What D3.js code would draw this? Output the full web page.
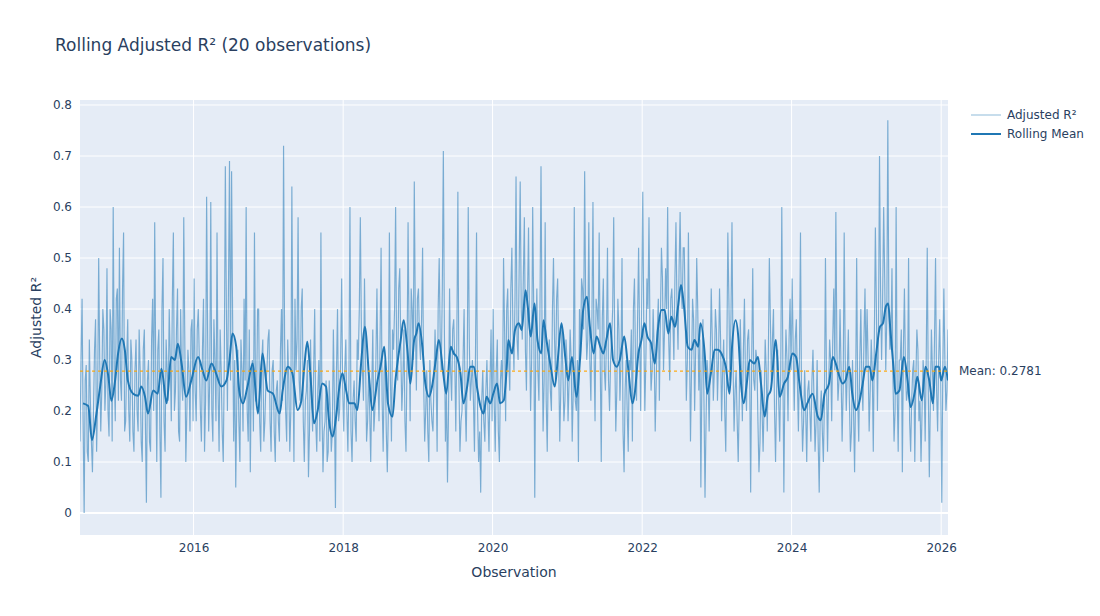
<!DOCTYPE html>
<html>
<head>
<meta charset="utf-8">
<script src="https://cdn.jsdelivr.net/npm/d3@7"></script>
<style>
  body { margin: 0; background: #fff; }
  text { font-family: "DejaVu Sans", Verdana, sans-serif; fill: #2a3f5f; }
</style>
</head>
<body>
<div id="chart"></div>
<script>
// raw adjusted R² values: rawXXXX one every 365.25/36 days from the first observation,
// midXXXX the observations half a step later
var rawStart = 2014.48;
var rawPerYear = 36;
var raw2014 = [0.14, 0.42, 0.00, 0.29, 0.10, 0.22, 0.08, 0.32, 0.12, 0.50, 0.16, 0.40, 0.20, 0.48, 0.15, 0.36, 0.60, 0.18, 0.44];
var raw2015 = [0.52, 0.22, 0.55, 0.18, 0.38, 0.14, 0.30, 0.12, 0.34, 0.16, 0.28, 0.10,
               0.36, 0.02, 0.30, 0.12, 0.42, 0.57, 0.10, 0.36, 0.03, 0.50, 0.12, 0.28,
               0.40, 0.18, 0.55, 0.24, 0.44, 0.14, 0.26, 0.58, 0.10, 0.32, 0.16, 0.38];
var raw2016 = [0.46, 0.18, 0.40, 0.20, 0.32, 0.12, 0.62, 0.16, 0.61, 0.14, 0.30, 0.55,
               0.12, 0.28, 0.10, 0.68, 0.20, 0.69, 0.67, 0.14, 0.05, 0.32, 0.10, 0.28,
               0.42, 0.60, 0.14, 0.08, 0.30, 0.55, 0.22, 0.40, 0.12, 0.34, 0.18, 0.28];
var raw2017 = [0.36, 0.12, 0.30, 0.10, 0.26, 0.14, 0.40, 0.72, 0.20, 0.34, 0.12, 0.64,
               0.10, 0.28, 0.58, 0.22, 0.44, 0.10, 0.24, 0.07, 0.34, 0.16, 0.40, 0.12,
               0.30, 0.55, 0.08, 0.18, 0.10, 0.26, 0.12, 0.36, 0.01, 0.40, 0.20, 0.46];
var raw2018 = [0.16, 0.34, 0.12, 0.60, 0.10, 0.26, 0.14, 0.30, 0.58, 0.28, 0.46, 0.14,
               0.28, 0.10, 0.36, 0.20, 0.44, 0.18, 0.52, 0.12, 0.30, 0.08, 0.55, 0.14,
               0.32, 0.60, 0.26, 0.48, 0.20, 0.36, 0.12, 0.57, 0.18, 0.40, 0.65, 0.24];
var raw2019 = [0.44, 0.30, 0.52, 0.14, 0.28, 0.10, 0.22, 0.16, 0.36, 0.12, 0.50, 0.28,
               0.71, 0.14, 0.06, 0.44, 0.22, 0.38, 0.16, 0.63, 0.12, 0.20, 0.40, 0.14,
               0.60, 0.22, 0.30, 0.12, 0.55, 0.10, 0.04, 0.28, 0.14, 0.30, 0.12, 0.36];
var raw2020 = [0.40, 0.12, 0.34, 0.10, 0.30, 0.50, 0.18, 0.44, 0.24, 0.52, 0.28, 0.66,
               0.30, 0.65, 0.34, 0.58, 0.24, 0.56, 0.20, 0.60, 0.03, 0.44, 0.22, 0.68,
               0.16, 0.57, 0.12, 0.34, 0.20, 0.50, 0.26, 0.46, 0.14, 0.36, 0.18, 0.34];
var raw2021 = [0.18, 0.36, 0.14, 0.60, 0.20, 0.10, 0.30, 0.44, 0.67, 0.30, 0.57, 0.22,
               0.61, 0.18, 0.40, 0.55, 0.10, 0.46, 0.24, 0.52, 0.20, 0.34, 0.58, 0.16,
               0.42, 0.22, 0.50, 0.08, 0.30, 0.12, 0.28, 0.14, 0.46, 0.22, 0.52, 0.20];
var raw2022 = [0.63, 0.20, 0.46, 0.58, 0.24, 0.40, 0.16, 0.36, 0.22, 0.52, 0.28, 0.48,
               0.60, 0.26, 0.44, 0.30, 0.57, 0.32, 0.59, 0.40, 0.52, 0.22, 0.55, 0.14,
               0.42, 0.20, 0.50, 0.24, 0.05, 0.38, 0.03, 0.30, 0.16, 0.44, 0.22, 0.40];
var raw2023 = [0.22, 0.44, 0.18, 0.34, 0.12, 0.55, 0.26, 0.57, 0.16, 0.28, 0.10, 0.38,
               0.18, 0.42, 0.20, 0.36, 0.04, 0.48, 0.24, 0.30, 0.08, 0.28, 0.12, 0.34,
               0.16, 0.50, 0.26, 0.40, 0.10, 0.32, 0.14, 0.60, 0.04, 0.36, 0.18, 0.42];
var raw2024 = [0.46, 0.20, 0.38, 0.16, 0.55, 0.12, 0.28, 0.10, 0.26, 0.14, 0.32, 0.12,
               0.30, 0.04, 0.24, 0.10, 0.50, 0.12, 0.34, 0.18, 0.44, 0.59, 0.22, 0.40,
               0.14, 0.55, 0.20, 0.36, 0.12, 0.30, 0.08, 0.50, 0.14, 0.40, 0.20, 0.44];
var raw2025 = [0.40, 0.16, 0.34, 0.12, 0.56, 0.20, 0.70, 0.30, 0.60, 0.28, 0.77, 0.32,
               0.48, 0.14, 0.60, 0.12, 0.30, 0.08, 0.44, 0.22, 0.50, 0.12, 0.28, 0.10,
               0.36, 0.18, 0.10, 0.30, 0.14, 0.52, 0.07, 0.36, 0.20, 0.50, 0.16, 0.38];
var raw2026 = [0.02, 0.44, 0.20, 0.36];

var mid2014 = [0.30, 0.18, 0.26, 0.12, 0.34, 0.14, 0.20, 0.38, 0.22, 0.30, 0.24, 0.36, 0.26, 0.20, 0.40, 0.14, 0.28, 0.42, 0.22];
var mid2015 = [0.26, 0.44, 0.16, 0.30, 0.20, 0.34, 0.16, 0.28, 0.20, 0.36, 0.14, 0.32,
               0.18, 0.26, 0.14, 0.34, 0.20, 0.28, 0.32, 0.16, 0.40, 0.18, 0.34, 0.22,
               0.30, 0.42, 0.20, 0.36, 0.16, 0.40, 0.22, 0.34, 0.20, 0.28, 0.36, 0.18];
var mid2016 = [0.24, 0.36, 0.30, 0.14, 0.42, 0.22, 0.34, 0.26, 0.20, 0.38, 0.18, 0.24,
               0.36, 0.16, 0.30, 0.40, 0.44, 0.26, 0.38, 0.30, 0.22, 0.18, 0.34, 0.16,
               0.26, 0.20, 0.36, 0.28, 0.16, 0.22, 0.40, 0.18, 0.30, 0.14, 0.26, 0.34];
var mid2017 = [0.18, 0.28, 0.16, 0.24, 0.18, 0.32, 0.22, 0.34, 0.14, 0.26, 0.20, 0.30,
               0.42, 0.34, 0.26, 0.40, 0.18, 0.22, 0.30, 0.16, 0.22, 0.28, 0.18, 0.24,
               0.14, 0.20, 0.16, 0.26, 0.12, 0.20, 0.16, 0.22, 0.28, 0.18, 0.30, 0.24];
var mid2018 = [0.28, 0.20, 0.26, 0.16, 0.22, 0.18, 0.34, 0.40, 0.36, 0.22, 0.30, 0.18,
               0.20, 0.24, 0.16, 0.30, 0.26, 0.34, 0.22, 0.28, 0.16, 0.20, 0.26, 0.36,
               0.40, 0.30, 0.44, 0.32, 0.26, 0.18, 0.30, 0.34, 0.44, 0.30, 0.38, 0.42];
var mid2019 = [0.34, 0.38, 0.26, 0.20, 0.16, 0.30, 0.18, 0.26, 0.28, 0.40, 0.34, 0.44,
               0.36, 0.24, 0.20, 0.28, 0.36, 0.30, 0.34, 0.26, 0.18, 0.30, 0.22, 0.28,
               0.34, 0.26, 0.22, 0.32, 0.20, 0.16, 0.22, 0.18, 0.24, 0.20, 0.26, 0.18];
var mid2020 = [0.22, 0.28, 0.16, 0.26, 0.22, 0.36, 0.40, 0.30, 0.44, 0.36, 0.42, 0.34,
               0.48, 0.40, 0.46, 0.32, 0.42, 0.36, 0.30, 0.40, 0.34, 0.28, 0.40, 0.36,
               0.26, 0.22, 0.30, 0.24, 0.40, 0.34, 0.42, 0.30, 0.24, 0.28, 0.22, 0.30];
var mid2021 = [0.26, 0.30, 0.24, 0.22, 0.30, 0.40, 0.46, 0.36, 0.40, 0.34, 0.30, 0.38,
               0.32, 0.42, 0.36, 0.30, 0.38, 0.28, 0.34, 0.26, 0.30, 0.40, 0.32, 0.24,
               0.36, 0.30, 0.16, 0.24, 0.20, 0.30, 0.36, 0.40, 0.30, 0.38, 0.34, 0.42];
var mid2022 = [0.36, 0.30, 0.40, 0.34, 0.28, 0.32, 0.26, 0.42, 0.38, 0.46, 0.36, 0.40,
               0.34, 0.42, 0.38, 0.46, 0.40, 0.48, 0.44, 0.52, 0.38, 0.30, 0.34, 0.28,
               0.38, 0.32, 0.40, 0.34, 0.26, 0.22, 0.18, 0.26, 0.30, 0.34, 0.28, 0.36];
var mid2023 = [0.30, 0.34, 0.28, 0.20, 0.30, 0.42, 0.38, 0.30, 0.24, 0.18, 0.22, 0.28,
               0.32, 0.26, 0.34, 0.28, 0.30, 0.26, 0.32, 0.18, 0.14, 0.20, 0.22, 0.28,
               0.30, 0.38, 0.34, 0.20, 0.24, 0.22, 0.28, 0.30, 0.26, 0.30, 0.34, 0.28];
var mid2024 = [0.32, 0.34, 0.26, 0.30, 0.22, 0.18, 0.20, 0.24, 0.20, 0.26, 0.22, 0.18,
               0.14, 0.20, 0.16, 0.22, 0.26, 0.24, 0.30, 0.34, 0.28, 0.32, 0.26, 0.28,
               0.24, 0.30, 0.28, 0.22, 0.16, 0.20, 0.24, 0.22, 0.30, 0.26, 0.34, 0.28];
var mid2025 = [0.30, 0.24, 0.28, 0.34, 0.40, 0.36, 0.44, 0.42, 0.46, 0.38, 0.40, 0.34,
               0.26, 0.20, 0.24, 0.30, 0.36, 0.32, 0.28, 0.24, 0.18, 0.22, 0.30, 0.26,
               0.32, 0.22, 0.20, 0.26, 0.30, 0.24, 0.22, 0.28, 0.34, 0.24, 0.30, 0.26];
var mid2026 = [0.28, 0.30, 0.24];

// rolling mean (20 obs), read at these decimal-year positions
var rollT = [2014.52, 2014.59, 2014.64, 2014.70, 2014.75, 2014.81, 2014.86, 2014.90, 2014.95, 2014.99,
             2015.04, 2015.08, 2015.12, 2015.19, 2015.26, 2015.30, 2015.35, 2015.39, 2015.46, 2015.52,
             2015.57, 2015.64, 2015.70, 2015.75, 2015.79, 2015.84, 2015.90, 2015.97, 2016.06, 2016.12,
             2016.17, 2016.24, 2016.30, 2016.37, 2016.44, 2016.48, 2016.52, 2016.57, 2016.61, 2016.66,
             2016.72, 2016.79, 2016.86, 2016.92, 2016.99, 2017.06, 2017.15, 2017.19, 2017.26, 2017.32,
             2017.39, 2017.44, 2017.48, 2017.52, 2017.56, 2017.61, 2017.66, 2017.72, 2017.77, 2017.81,
             2017.86, 2017.90, 2017.95, 2017.99, 2018.04, 2018.08, 2018.15, 2018.19, 2018.24, 2018.29,
             2018.35, 2018.39, 2018.46, 2018.50, 2018.55, 2018.60, 2018.66, 2018.70, 2018.77, 2018.81,
             2018.86, 2018.90, 2018.95, 2018.98, 2019.01, 2019.06, 2019.10, 2019.15, 2019.19, 2019.24,
             2019.28, 2019.34, 2019.38, 2019.44, 2019.48, 2019.52, 2019.57, 2019.61, 2019.66, 2019.70,
             2019.75, 2019.79, 2019.84, 2019.88, 2019.92, 2019.97, 2020.01, 2020.06, 2020.10, 2020.15,
             2020.19, 2020.21, 2020.26, 2020.30, 2020.35, 2020.39, 2020.44, 2020.47, 2020.51, 2020.56,
             2020.60, 2020.65, 2020.68, 2020.72, 2020.77, 2020.83, 2020.87, 2020.92, 2020.97, 2021.01,
             2021.06, 2021.12, 2021.17, 2021.21, 2021.26, 2021.30, 2021.35, 2021.39, 2021.44, 2021.48,
             2021.52, 2021.57, 2021.61, 2021.66, 2021.70, 2021.76, 2021.81, 2021.87, 2021.90, 2021.95,
             2021.99, 2022.03, 2022.07, 2022.12, 2022.17, 2022.21, 2022.26, 2022.30, 2022.35, 2022.39,
             2022.44, 2022.48, 2022.52, 2022.56, 2022.61, 2022.66, 2022.70, 2022.75, 2022.78, 2022.84,
             2022.87, 2022.92, 2022.97, 2023.01, 2023.06, 2023.12, 2023.17, 2023.20, 2023.25, 2023.29,
             2023.32, 2023.36, 2023.40, 2023.44, 2023.50, 2023.55, 2023.59, 2023.64, 2023.68, 2023.72,
             2023.79, 2023.84, 2023.90, 2023.95, 2024.01, 2024.06, 2024.10, 2024.17, 2024.21, 2024.28,
             2024.35, 2024.39, 2024.44, 2024.50, 2024.55, 2024.59, 2024.64, 2024.68, 2024.72, 2024.77,
             2024.81, 2024.86, 2024.90, 2024.95, 2024.99, 2025.04, 2025.08, 2025.13, 2025.18, 2025.22,
             2025.26, 2025.29, 2025.32, 2025.36, 2025.39, 2025.44, 2025.50, 2025.55, 2025.59, 2025.65,
             2025.68, 2025.74, 2025.79, 2025.84, 2025.89, 2025.92, 2025.97, 2026.00, 2026.05, 2026.09];
var rollV = [0.215, 0.210, 0.143, 0.195, 0.248, 0.300, 0.267, 0.220, 0.260, 0.313,
             0.342, 0.320, 0.260, 0.234, 0.230, 0.248, 0.228, 0.195, 0.240, 0.234,
             0.283, 0.215, 0.306, 0.300, 0.332, 0.293, 0.228, 0.260, 0.306, 0.280,
             0.260, 0.293, 0.274, 0.248, 0.260, 0.300, 0.352, 0.326, 0.240, 0.215,
             0.248, 0.293, 0.195, 0.313, 0.240, 0.234, 0.195, 0.240, 0.287, 0.274,
             0.202, 0.220, 0.287, 0.336, 0.274, 0.176, 0.202, 0.254, 0.248, 0.182,
             0.150, 0.182, 0.248, 0.274, 0.240, 0.215, 0.215, 0.202, 0.293, 0.365,
             0.260, 0.202, 0.260, 0.287, 0.326, 0.215, 0.189, 0.260, 0.339, 0.378,
             0.320, 0.254, 0.339, 0.352, 0.372, 0.326, 0.254, 0.228, 0.248, 0.300,
             0.339, 0.274, 0.234, 0.326, 0.313, 0.306, 0.274, 0.215, 0.248, 0.287,
             0.287, 0.248, 0.208, 0.195, 0.228, 0.215, 0.234, 0.254, 0.215, 0.221,
             0.287, 0.339, 0.313, 0.359, 0.372, 0.359, 0.437, 0.405, 0.346, 0.411,
             0.339, 0.313, 0.378, 0.339, 0.293, 0.248, 0.300, 0.372, 0.306, 0.260,
             0.306, 0.228, 0.306, 0.398, 0.424, 0.365, 0.313, 0.346, 0.326, 0.313,
             0.339, 0.372, 0.300, 0.287, 0.300, 0.346, 0.287, 0.215, 0.234, 0.313,
             0.339, 0.372, 0.346, 0.333, 0.293, 0.359, 0.398, 0.398, 0.352, 0.385,
             0.365, 0.405, 0.447, 0.405, 0.326, 0.320, 0.339, 0.326, 0.372, 0.306,
             0.234, 0.274, 0.320, 0.320, 0.313, 0.287, 0.234, 0.320, 0.378, 0.339,
             0.260, 0.215, 0.254, 0.300, 0.293, 0.306, 0.254, 0.189, 0.228, 0.240,
             0.339, 0.228, 0.254, 0.267, 0.313, 0.306, 0.260, 0.202, 0.215, 0.234,
             0.189, 0.182, 0.234, 0.254, 0.306, 0.293, 0.267, 0.254, 0.260, 0.287,
             0.234, 0.202, 0.215, 0.254, 0.287, 0.287, 0.260, 0.313, 0.365, 0.372,
             0.405, 0.411, 0.359, 0.287, 0.234, 0.240, 0.306, 0.260, 0.208, 0.240,
             0.267, 0.221, 0.287, 0.260, 0.215, 0.287, 0.287, 0.260, 0.287, 0.260];

var meanValue = 0.2781;
var yTicks = [0, 0.1, 0.2, 0.3, 0.4, 0.5, 0.6, 0.7, 0.8];
var xTickYears = [2016, 2018, 2020, 2022, 2024, 2026];
var legendLabels = ["Adjusted R\u00b2", "Rolling Mean"];

var width = 1100, height = 616;
var margin = {top: 100, right: 152, bottom: 81, left: 80};
var plotW = width - margin.left - margin.right;
var plotH = height - margin.top - margin.bottom;

// decimal year -> Date
function yearToDate(t) {
    var y = Math.floor(t);
    var a = Date.UTC(y, 0, 1), b = Date.UTC(y + 1, 0, 1);
    return new Date(a + (t - y) * (b - a));
}

var rawValues = [].concat(raw2014, raw2015, raw2016, raw2017, raw2018, raw2019,
                          raw2020, raw2021, raw2022, raw2023, raw2024, raw2025, raw2026);
var midValues = [].concat(mid2014, mid2015, mid2016, mid2017, mid2018, mid2019,
                          mid2020, mid2021, mid2022, mid2023, mid2024, mid2025, mid2026);
var rawData = rawValues.map(function(v, i) {
    return {date: yearToDate(rawStart + i / rawPerYear), value: v};
}).concat(midValues.map(function(v, i) {
    return {date: yearToDate(rawStart + (i + 0.5) / rawPerYear), value: v};
}));
rawData.sort(function(a, b) { return a.date - b.date; });

var rollData = rollT.map(function(t, i) {
    return {date: yearToDate(t), value: rollV[i]};
});

var svg = d3.select("#chart").append("svg")
    .attr("width", width)
    .attr("height", height);

svg.append("text")
    .attr("x", 55)
    .attr("y", 51)
    .style("font-size", "17px")
    .text("Rolling Adjusted R\u00b2 (20 observations)");

var g = svg.append("g")
    .attr("transform", "translate(" + margin.left + "," + margin.top + ")");

var xScale = d3.scaleUtc()
    .domain(d3.extent(rawData, function(d) { return d.date; }))
    .range([0, plotW]);

var yScale = d3.scaleLinear()
    .domain([-0.0431, 0.8098])
    .range([plotH, 0]);

g.append("rect")
    .attr("width", plotW)
    .attr("height", plotH)
    .attr("fill", "#E5ECF6");

var xTicks = xTickYears.map(function(y) { return new Date(Date.UTC(y, 0, 1)); });

// grid
g.selectAll(".ygrid").data(yTicks).enter().append("line")
    .attr("class", "ygrid")
    .attr("x1", 0).attr("x2", plotW)
    .attr("y1", function(d) { return yScale(d); })
    .attr("y2", function(d) { return yScale(d); })
    .attr("stroke", "#fff")
    .attr("stroke-width", function(d) { return d === 0 ? 2 : 1; });

g.selectAll(".xgrid").data(xTicks).enter().append("line")
    .attr("class", "xgrid")
    .attr("y1", 0).attr("y2", plotH)
    .attr("x1", function(d) { return xScale(d); })
    .attr("x2", function(d) { return xScale(d); })
    .attr("stroke", "#fff")
    .attr("stroke-width", 1);

g.append("clipPath").attr("id", "plotclip")
    .append("rect").attr("width", plotW).attr("height", plotH);

var plot = g.append("g").attr("clip-path", "url(#plotclip)");

var line = d3.line()
    .x(function(d) { return xScale(d.date); })
    .y(function(d) { return yScale(d.value); });

plot.append("path")
    .datum(rawData)
    .attr("d", line)
    .attr("fill", "none")
    .attr("stroke", "#1f77b4")
    .attr("stroke-opacity", 0.55)
    .attr("stroke-width", 1.15);

plot.append("path")
    .datum(rollData)
    .attr("d", line.curve(d3.curveMonotoneX))
    .attr("fill", "none")
    .attr("stroke", "#1f77b4")
    .attr("stroke-width", 2);

plot.append("line")
    .attr("x1", 0).attr("x2", plotW)
    .attr("y1", yScale(meanValue)).attr("y2", yScale(meanValue))
    .attr("stroke", "orange")
    .attr("stroke-opacity", 0.9)
    .attr("stroke-width", 1.2)
    .attr("stroke-dasharray", "3,3");

g.append("text")
    .attr("x", plotW + 11)
    .attr("y", yScale(meanValue))
    .attr("dy", "0.35em")
    .style("font-size", "12px")
    .text("Mean: " + meanValue.toFixed(4));

// axes
var yAxis = d3.axisLeft(yScale)
    .tickValues(yTicks)
    .tickSize(0)
    .tickPadding(8)
    .tickFormat(function(d) { return d === 0 ? "0" : d3.format(".1f")(d); });

g.append("g").call(yAxis)
    .call(function(s) { s.select(".domain").remove(); })
    .selectAll("text")
    .style("font-size", "12px")
    .attr("fill", "#2a3f5f");

var xAxis = d3.axisBottom(xScale)
    .tickValues(xTicks)
    .tickSize(0)
    .tickPadding(8)
    .tickFormat(d3.utcFormat("%Y"));

g.append("g")
    .attr("transform", "translate(0," + plotH + ")")
    .call(xAxis)
    .call(function(s) { s.select(".domain").remove(); })
    .selectAll("text")
    .style("font-size", "12px")
    .attr("fill", "#2a3f5f");

svg.append("text")
    .attr("x", margin.left + plotW / 2)
    .attr("y", 577)
    .attr("text-anchor", "middle")
    .style("font-size", "14px")
    .text("Observation");

svg.append("text")
    .attr("transform", "translate(41," + (margin.top + plotH / 2) + ") rotate(-90)")
    .attr("text-anchor", "middle")
    .style("font-size", "14px")
    .text("Adjusted R\u00b2");

// legend
var legend = svg.append("g").attr("transform", "translate(971,115)");
var items = legend.selectAll(".item").data(legendLabels).enter().append("g")
    .attr("class", "item")
    .attr("transform", function(d, i) { return "translate(0," + (i * 19) + ")"; });

items.append("line")
    .attr("x1", 0).attr("x2", 30)
    .attr("stroke", "#1f77b4")
    .attr("stroke-opacity", function(d, i) { return i === 0 ? 0.5 : 1; })
    .attr("stroke-width", function(d, i) { return i === 0 ? 1 : 2; });

items.append("text")
    .attr("x", 36)
    .attr("dy", "0.35em")
    .style("font-size", "12px")
    .text(function(d) { return d; });
</script>
</body>
</html>
